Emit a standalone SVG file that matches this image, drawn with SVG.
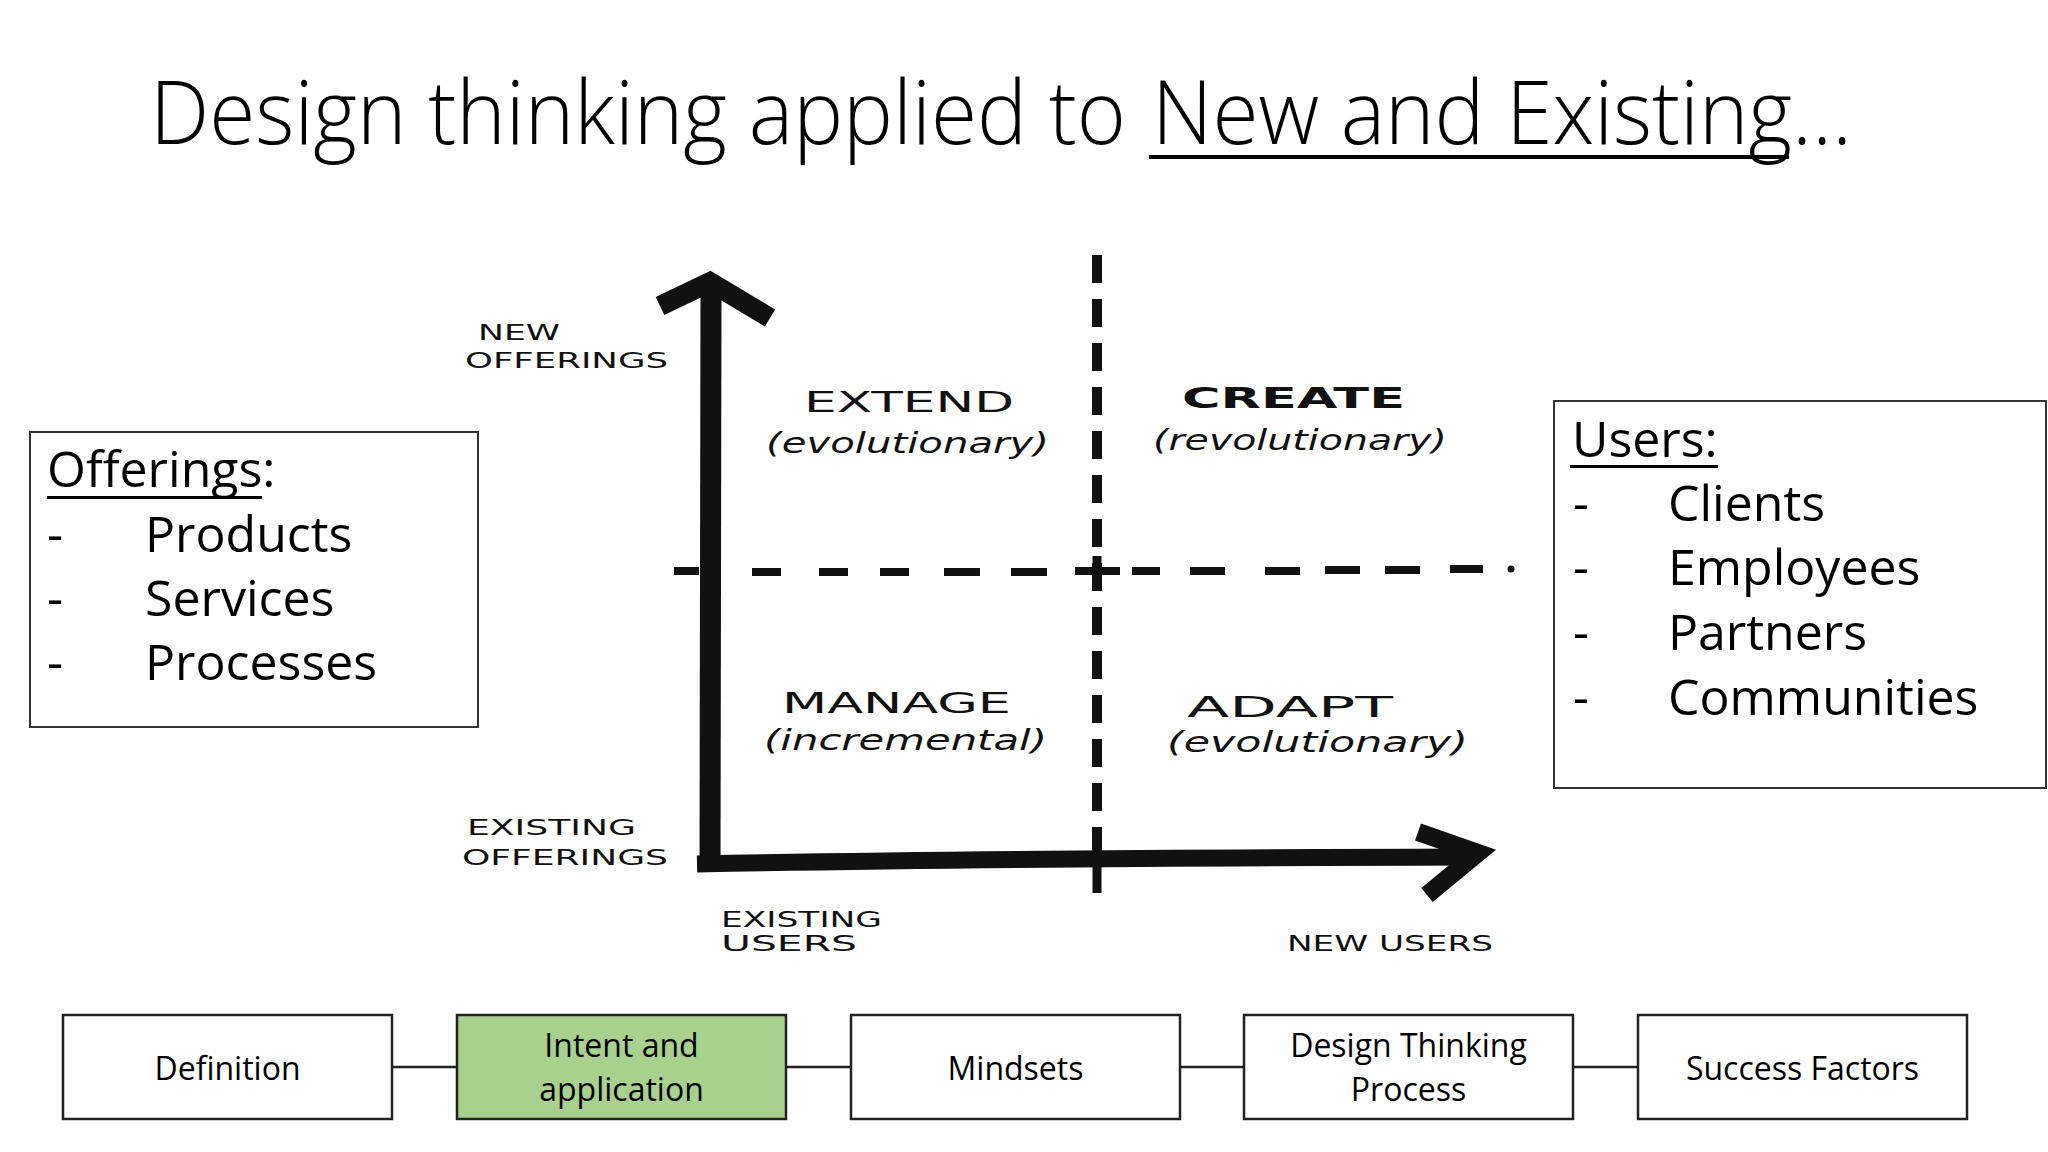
<svg xmlns="http://www.w3.org/2000/svg" width="2048" height="1152" viewBox="0 0 2048 1152">
  <style>
    .title { font-family: "Open Sans", "Liberation Sans", sans-serif; font-weight: 300; font-size: 88px; fill: #000; }
    .list { font-family: "Open Sans", "Liberation Sans", sans-serif; font-size: 50px; fill: #000; }
    .box { fill: #fff; stroke: #222; stroke-width: 2.5; }
    .box.active { fill: #A9D18E; }
    .btext { font-family: "Open Sans", "Liberation Sans", sans-serif; font-size: 32px; fill: #000; text-anchor: middle; }
    .hand { font-family: "DejaVu Sans", "Liberation Sans", sans-serif; font-size: 22px; fill: #111; }
    .handbig { font-family: "DejaVu Sans", "Liberation Sans", sans-serif; font-size: 28px; fill: #111; }
    .handlc { font-family: "DejaVu Sans", "Liberation Sans", sans-serif; font-style: italic; font-size: 28px; fill: #111; }
    .axis { fill: none; stroke: #111; stroke-linecap: butt; }
    .conn { stroke: #222; stroke-width: 2.5; fill: none; }
  </style>
  <rect width="2048" height="1152" fill="#fff"/>

  <g id="title">
    <text class="title" y="144"><tspan x="150" textLength="976" lengthAdjust="spacingAndGlyphs">Design thinking applied to</tspan><tspan x="1152" textLength="700" lengthAdjust="spacingAndGlyphs">New and Existing…</tspan></text>
    <rect x="1149" y="155" width="640" height="4" fill="#000"/>
  </g>

  <g id="offerings">
    <rect x="30" y="432" width="448" height="295" fill="#fff" stroke="#333" stroke-width="2"/>
    <text class="list" x="47" y="487">Offerings:</text>
    <rect x="47" y="496" width="215" height="3" fill="#000"/>
    <text class="list" x="47" y="552">-</text><text class="list" x="145" y="552">Products</text>
    <text class="list" x="47" y="616">-</text><text class="list" x="145" y="616">Services</text>
    <text class="list" x="47" y="680">-</text><text class="list" x="145" y="680">Processes</text>
  </g>

  <g id="users">
    <rect x="1554" y="401" width="492" height="387" fill="#fff" stroke="#333" stroke-width="2"/>
    <text class="list" x="1572" y="457">Users:</text>
    <rect x="1570" y="465" width="148" height="3" fill="#000"/>
    <text class="list" x="1573" y="521">-</text><text class="list" x="1668" y="521">Clients</text>
    <text class="list" x="1573" y="585">-</text><text class="list" x="1668" y="585">Employees</text>
    <text class="list" x="1573" y="650">-</text><text class="list" x="1668" y="650">Partners</text>
    <text class="list" x="1573" y="715">-</text><text class="list" x="1668" y="715">Communities</text>
  </g>

  <g id="matrix">
    <!-- vertical dashed divider -->
    <line x1="1097" y1="255" x2="1097" y2="850" stroke="#111" stroke-width="10" stroke-dasharray="28 16"/>
    <line x1="1097" y1="850" x2="1097" y2="893" stroke="#111" stroke-width="9"/>
    <line x1="1097" y1="556" x2="1097" y2="590" stroke="#111" stroke-width="9"/>
    <!-- horizontal dashed divider -->
    <path d="M674 571 H699 M752 572 H781 M819 572 H848 M880 572 H909 M944 572 H980 M1011 572 H1047 M1075 571 H1120 M1132 571 H1160 M1190 571 H1225 M1265 571 H1300 M1325 570 H1360 M1385 570 H1420 M1450 569 H1483" stroke="#111" stroke-width="8" fill="none"/>
    <circle cx="1511" cy="569" r="3.5" fill="#111"/>
    <!-- axes -->
    <path class="axis" d="M711 290 L710 872" stroke-width="21"/>
    <path class="axis" d="M660 306 L710 282 L770 318" stroke-width="20" stroke-linejoin="miter"/>
    <path class="axis" d="M697 864 Q1000 858 1470 857" stroke-width="17"/>
    <path class="axis" d="M1418 832 L1478 853 L1427 895" stroke-width="18" stroke-linejoin="miter"/>

    <!-- axis labels -->
    <text class="hand" x="478" y="340" textLength="82" lengthAdjust="spacingAndGlyphs">NEW</text>
    <text class="hand" x="465" y="368" textLength="203" lengthAdjust="spacingAndGlyphs">OFFERINGS</text>
    <text class="hand" x="467" y="835" textLength="169" lengthAdjust="spacingAndGlyphs">EXISTING</text>
    <text class="hand" x="462" y="865" textLength="206" lengthAdjust="spacingAndGlyphs">OFFERINGS</text>
    <text class="hand" x="721" y="927" textLength="161" lengthAdjust="spacingAndGlyphs">EXISTING</text>
    <text class="hand" x="721" y="951" textLength="136" lengthAdjust="spacingAndGlyphs">USERS</text>
    <text class="hand" x="1287" y="951" textLength="206" lengthAdjust="spacingAndGlyphs">NEW USERS</text>

    <!-- quadrant labels -->
    <text class="handbig" x="804" y="412" textLength="210" lengthAdjust="spacingAndGlyphs">EXTEND</text>
    <text class="handlc" x="766" y="453" textLength="283" lengthAdjust="spacingAndGlyphs">(evolutionary)</text>
    <text class="handbig" x="1182" y="408" textLength="223" lengthAdjust="spacingAndGlyphs" font-weight="bold">CREATE</text>
    <text class="handlc" x="1153" y="450" textLength="294" lengthAdjust="spacingAndGlyphs">(revolutionary)</text>
    <text class="handbig" x="782" y="713" textLength="229" lengthAdjust="spacingAndGlyphs">MANAGE</text>
    <text class="handlc" x="764" y="750" textLength="283" lengthAdjust="spacingAndGlyphs">(incremental)</text>
    <text class="handbig" x="1187" y="717" textLength="206" lengthAdjust="spacingAndGlyphs">ADAPT</text>
    <text class="handlc" x="1167" y="752" textLength="301" lengthAdjust="spacingAndGlyphs">(evolutionary)</text>
  </g>

  <g id="connectors">
    <line class="conn" x1="392" y1="1067" x2="457" y2="1067"/>
    <line class="conn" x1="786" y1="1067" x2="851" y2="1067"/>
    <line class="conn" x1="1180" y1="1067" x2="1244" y2="1067"/>
    <line class="conn" x1="1573" y1="1067" x2="1638" y2="1067"/>
  </g>

  <g id="node-definition">
    <rect class="box" x="63" y="1015" width="329" height="104"/>
    <text class="btext" x="227.5" y="1080">Definition</text>
  </g>
  <g id="node-intent">
    <rect class="box active" x="457" y="1015" width="329" height="104"/>
    <text class="btext" x="621.5" y="1057">Intent and</text>
    <text class="btext" x="621.5" y="1101">application</text>
  </g>
  <g id="node-mindsets">
    <rect class="box" x="851" y="1015" width="329" height="104"/>
    <text class="btext" x="1015.5" y="1080">Mindsets</text>
  </g>
  <g id="node-process">
    <rect class="box" x="1244" y="1015" width="329" height="104"/>
    <text class="btext" x="1408.5" y="1057">Design Thinking</text>
    <text class="btext" x="1408.5" y="1101">Process</text>
  </g>
  <g id="node-success">
    <rect class="box" x="1638" y="1015" width="329" height="104"/>
    <text class="btext" x="1802.5" y="1080">Success Factors</text>
  </g>
</svg>
